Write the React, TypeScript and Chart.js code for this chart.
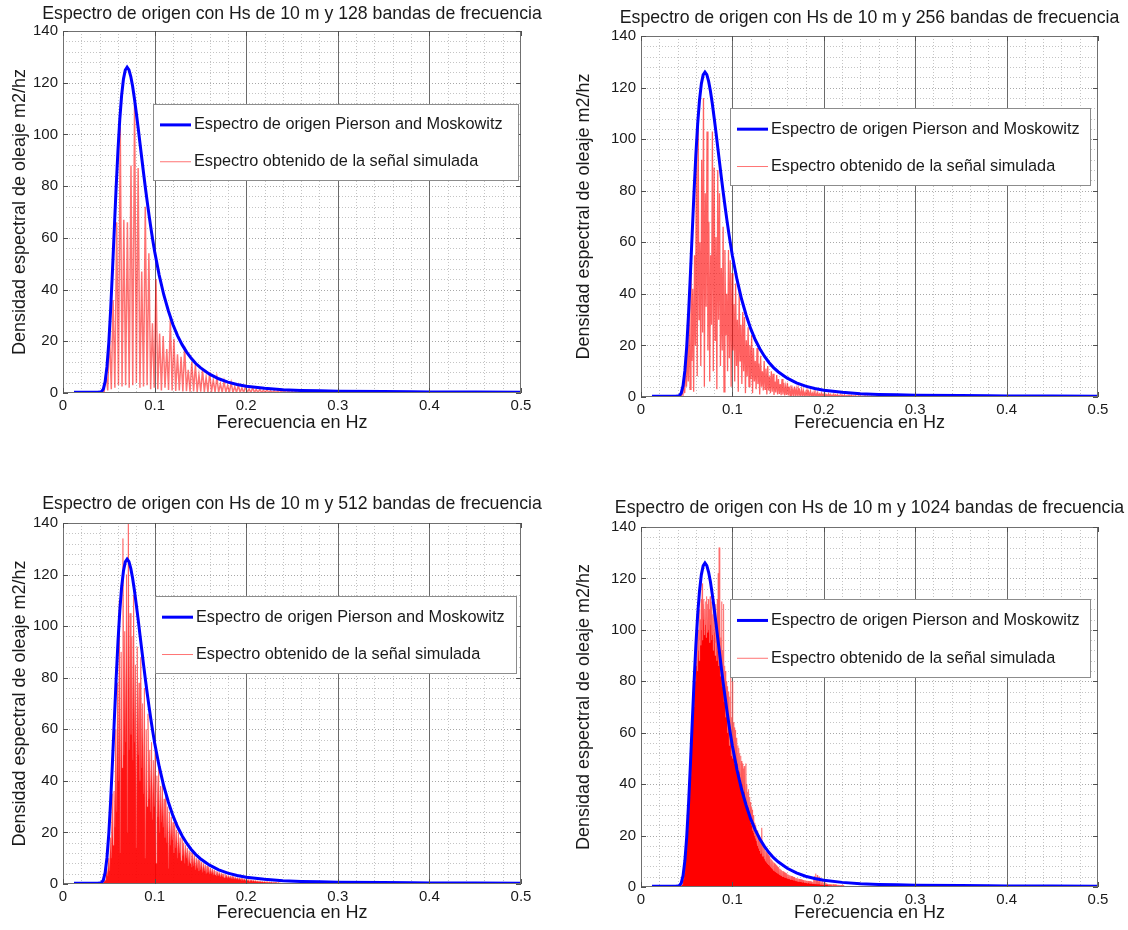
import React, { useEffect, useRef } from "react";
import { Chart, registerables } from "chart.js";

Chart.register(...registerables);

const FONT = "'Liberation Sans', Arial, Helvetica, sans-serif";
const TEXT = "#1a1a1a";

// ---------- Texts ----------
const TITLES = [
  "Espectro de origen con Hs de 10 m y 128 bandas de frecuencia",
  "Espectro de origen con Hs de 10 m y 256 bandas de frecuencia",
  "Espectro de origen con Hs de 10 m y 512 bandas de frecuencia",
  "Espectro de origen con Hs de 10 m y 1024 bandas de frecuencia",
];
const X_LABEL = "Ferecuencia en Hz";
const Y_LABEL = "Densidad espectral de oleaje m2/hz";
const LEGEND_PM = "Espectro de origen Pierson and Moskowitz";
const LEGEND_SIM = "Espectro obtenido de la señal simulada";

// ---------- Axes ----------
const X_MAJOR = [0, 0.1, 0.2, 0.3, 0.4, 0.5];
const Y_MAJOR = [0, 20, 40, 60, 80, 100, 120, 140];
const X_MINOR = [0.02, 0.04, 0.06, 0.08, 0.12, 0.14, 0.16, 0.18, 0.22, 0.24, 0.26, 0.28, 0.32, 0.34, 0.36, 0.38, 0.42, 0.44, 0.46, 0.48];
const Y_MINOR = [4, 8, 12, 16, 24, 28, 32, 36, 44, 48, 52, 56, 64, 68, 72, 76, 84, 88, 92, 96, 104, 108, 112, 116, 124, 128, 132, 136];

// ---------- Pierson-Moskowitz source spectrum (blue) ----------
const PM_FREQ = [0.012, 0.02, 0.03, 0.038, 0.04, 0.042, 0.044, 0.046, 0.048, 0.05, 0.052, 0.054, 0.056, 0.058, 0.06, 0.062, 0.064, 0.066, 0.068, 0.07, 0.072, 0.074, 0.076, 0.078, 0.08, 0.082, 0.084, 0.086, 0.088, 0.09, 0.092, 0.094, 0.096, 0.098, 0.1, 0.105, 0.11, 0.115, 0.12, 0.125, 0.13, 0.135, 0.14, 0.145, 0.15, 0.16, 0.17, 0.18, 0.19, 0.2, 0.22, 0.24, 0.26, 0.28, 0.3, 0.35, 0.38, 0.4, 0.45, 0.5];
const PM_VALUES = [0.3, 0.3, 0.3, 0.3, 0.35, 0.5, 1.5, 4.4, 10.2, 19.4, 32.1, 47.2, 63.4, 79.4, 93.8, 105.9, 115.1, 121.4, 124.9, 126, 125, 122.4, 118.6, 113.8, 108.4, 102.7, 96.7, 90.8, 84.9, 79.2, 73.8, 68.6, 63.7, 59.1, 54.8, 45.6, 38, 31.8, 26.5, 22.2, 18.7, 15.8, 13.4, 11.4, 9.8, 7.3, 5.5, 4.2, 3.3, 2.6, 1.8, 1.3, 1.0, 0.85, 0.7, 0.55, 0.5, 0.4, 0.35, 0.3];

// ---------- Simulated spectra (red) ----------
const BANDS = [128, 256, 512, 1024];

// 128 bands: band peaks from band index 10, and minima between bands
const R128_START = 10;
const R128_PEAKS = [0.3, 1, 8, 23, 36, 66, 103, 67, 66, 88, 112, 87, 47, 72, 54, 27, 44, 23, 22, 17, 29, 21, 15, 14, 18, 9, 12, 11, 7, 9, 6, 8, 5, 6, 3.5, 4.5, 3, 4, 2.5, 3, 2, 2.5, 1.6, 2, 1.4, 1.5, 1.1, 1.3, 0.9, 1, 0.8, 0.9, 0.7, 0.8, 0.6, 0.7, 0.5, 0.6, 0.5, 0.5, 0.4, 0.5, 0.4, 0.4, 0.35, 0.4, 0.3, 0.35];
const R128_TROUGHS = [0.2, 0.3, 1, 1.5, 2, 3, 2.5, 3, 2, 3, 4, 2, 2.5, 3, 1.5, 2, 1.5, 1, 2, 1.2, 1, 0.8, 1, 0.6, 0.7, 0.5, 0.6, 0.4, 0.5, 0.4, 0.3, 0.4, 0.3, 0.3, 0.2, 0.3, 0.2, 0.2, 0.2, 0.2, 0.15, 0.2, 0.15, 0.15, 0.15, 0.15, 0.1, 0.15, 0.1, 0.1, 0.1, 0.1, 0.1, 0.1, 0.1, 0.1, 0.1, 0.1, 0.1, 0.1, 0.1, 0.1, 0.1, 0.1, 0.1, 0.1, 0.1, 0.1];

// 256 bands
const R256_START = 21;
const R256_PEAKS = [0.3, 0.5, 2, 6, 14, 20, 35, 50, 42, 55, 92, 110, 60, 92, 116, 79, 103, 68, 55, 103, 89, 62, 88, 79, 50, 66, 57, 40, 57, 53, 48, 36, 44, 30, 41, 28, 33, 31, 22, 27, 20, 24, 19, 14, 19, 13, 16, 10, 14, 11, 12, 8, 10, 9, 6, 8.5, 7, 5, 7, 5.5, 4, 5.5, 4, 4.5, 3, 4, 3, 3.4, 2.2, 3, 2.4, 1.8, 2.6, 1.9, 2.2, 1.4, 2, 1.5, 1.7, 1.1, 1.5, 1.2, 1.3, 0.9, 1.2, 1, 0.8, 1.1, 0.8, 0.9, 0.6, 0.9, 0.7, 0.8, 0.5, 0.7, 0.6, 0.65, 0.45, 0.55, 0.35, 0.5, 0.4, 0.3, 0.45, 0.35, 0.4, 0.3, 0.35, 0.3, 0.25, 0.35, 0.3, 0.25, 0.3, 0.3, 0.2, 0.3, 0.25, 0.2, 0.25, 0.2, 0.25, 0.2, 0.2, 0.15, 0.2, 0.2, 0.15, 0.2, 0.15, 0.2, 0.15, 0.15];
const R256_TROUGHS = [0.2, 0.3, 0.8, 1.5, 4, 6, 3, 14, 2, 20, 8, 30, 12, 25, 4, 35, 18, 6, 28, 10, 22, 3, 30, 12, 18, 2, 24, 10, 15, 4, 18, 6, 12, 2, 14, 5, 10, 1.5, 8, 4, 7, 1.5, 6, 3, 5, 1, 4, 2.5, 3, 1, 2.5, 1.5, 2, 0.8, 1.8, 1, 1.2, 0.7, 1, 0.6, 0.8, 0.6, 0.5, 0.7, 0.4, 0.5, 0.4, 0.45, 0.3, 0.4, 0.3, 0.3, 0.25, 0.3, 0.25, 0.2, 0.25, 0.2, 0.2, 0.2, 0.2, 0.15, 0.2, 0.15, 0.15, 0.2, 0.15, 0.1, 0.15, 0.1, 0.15, 0.1, 0.1, 0.15, 0.1, 0.1, 0.1, 0.1, 0.1, 0.1, 0.1, 0.1, 0.1, 0.1, 0.1, 0.1, 0.1, 0.1, 0.1, 0.1, 0.1, 0.1, 0.1, 0.1, 0.1, 0.1, 0.1, 0.1, 0.1, 0.1, 0.1, 0.1, 0.1, 0.1, 0.1, 0.1, 0.1, 0.1, 0.1, 0.1, 0.1, 0.1, 0.1, 0.1];

// 512 bands (one value per band from band index 44)
const R512_START = 44;
const R512_VALUES = [0.3, 0.5, 1, 1.5, 3, 6, 3, 10, 5, 18, 10, 35, 15, 36, 22, 60, 28, 78, 40, 110, 12, 90, 45, 134, 50, 98, 55, 120, 20, 150, 52, 105, 58, 96, 48, 112, 55, 85, 14, 92, 50, 78, 40, 88, 45, 70, 35, 76, 10, 60, 30, 66, 33, 52, 28, 55, 25, 48, 30, 52,
  8, 42, 26, 45, 20, 38, 24, 40, 22, 33, 18, 36, 16, 30, 6, 28, 15, 26, 17, 24,
  12, 23, 14, 21, 10, 20, 12, 18, 9, 19, 11, 16, 8, 15, 10, 14, 7, 13, 8, 12.5,
  6.5, 12, 7, 11, 5.5, 10, 6, 9.5, 5, 9, 5.5, 8.5, 4.5, 8, 5, 7.5, 4, 7, 4.5, 6.5,
  3.8, 6.2, 4, 5.8, 3.4, 5.5, 3.5, 5, 3, 4.8, 3.1, 4.5, 2.7, 4.2, 2.8, 4, 2.4, 3.8, 2.5, 3.5,
  2.2, 3.3, 2.2, 3.1, 2, 3, 2, 2.8, 1.8, 2.6, 1.8, 2.5, 1.6, 2.4, 1.6, 2.2, 1.4, 2.1, 1.4, 2,
  1.3, 1.9, 1.2, 1.8, 1.1, 1.7, 1.1, 1.6, 1, 1.5, 1, 1.4, 0.9, 1.3, 0.9, 1.2, 0.8, 1.1, 0.8, 1,
  0.7, 1, 0.7, 0.9, 0.6, 0.9, 0.6, 0.8, 0.6, 0.8, 0.5, 0.7, 0.5, 0.7, 0.5, 0.6, 0.4, 0.6, 0.4, 0.5];

// 1024 bands (one value per band from band index 88)
const R1024_START = 88;
const R1024_VALUES = [0.3, 0.4, 0.5, 0.7, 1, 1.4, 2.2, 3, 4, 5.5, 7, 9, 11, 14, 16, 20, 22, 27, 29, 33, 35, 41, 43, 47, 50, 56, 58, 63, 65, 72, 70, 79, 76, 88, 80, 92, 86, 98, 84, 104, 92, 100, 88, 108, 96, 104, 94, 112, 100, 118, 96, 110, 104, 112, 98, 108, 102, 111, 97, 113, 105, 110, 99, 112, 100, 108, 95, 113, 102, 109, 96, 111, 98, 106, 92, 112, 99, 104, 90, 110, 95, 103, 88, 112, 92, 122, 86, 132, 90, 110, 82, 97, 86, 111, 78, 92, 80, 110, 72, 86, 74, 84, 66, 80, 68, 78, 60, 76, 62, 70, 55, 74, 57, 84, 51, 66, 53, 80,
  50, 64, 52, 62, 48, 61, 50, 58, 46, 57, 48, 55, 44, 54, 45, 52, 41, 51, 42, 49, 38, 48, 40, 46, 36, 47, 37, 44, 34, 48, 33, 40, 30, 37, 31, 38, 28, 35, 27, 33,
  25, 31, 24, 30, 22, 28, 21, 27, 20, 25, 19, 24, 18, 22, 17, 22, 16, 20, 15, 19, 14, 19, 13, 18, 13, 23, 12, 17, 12, 15.5, 11, 15, 10.5, 14, 10, 13.5, 9.5, 13, 9, 12.5,
  8.6, 12, 8.2, 11.5, 7.8, 11, 7.4, 10.5, 7, 10, 6.7, 9.6, 6.4, 9.2, 6.1, 8.8, 5.8, 8.4, 5.5, 8, 5.3, 7.7, 5, 7.4, 4.8, 7.1, 4.6, 6.8, 4.4, 6.5, 4.2, 6.2, 4, 6, 3.9, 5.7, 3.7, 5.5,
  3.6, 5.3, 3.4, 5.1, 3.3, 4.9, 3.2, 4.7, 3.1, 4.5, 3, 4.4, 2.9, 4.2, 2.8, 4.1, 2.7, 3.9, 2.6, 3.8, 2.5, 3.7, 2.4, 3.5, 2.3, 3.4, 2.2, 3.3, 2.2, 3.2, 2.1, 3.1, 2, 3, 2, 2.9, 1.9, 2.8, 1.8, 2.7,
  1.8, 2.7, 1.7, 2.6, 1.7, 2.5, 1.6, 2.4, 1.6, 2.4, 1.5, 2.3, 1.5, 2.2, 1.4, 2.2, 1.4, 2.1, 1.3, 2.1, 1.3, 2, 1.3, 3, 1.2, 4.2, 1.2, 5.2, 1.2, 2.8, 1.1, 4.6, 1.1, 2, 1.1, 4, 1, 1.7, 1, 3.2,
  1, 1.6, 0.9, 2.6, 0.9, 1.4, 0.9, 2, 0.8, 1.3, 0.8, 1.3, 0.8, 1.2, 0.8, 1.2, 0.7, 1.1, 0.7, 1.1, 0.7, 1.1, 0.7, 1, 0.6, 1, 0.6, 1, 0.6, 0.9, 0.6, 0.9, 0.6, 0.9, 0.5, 0.8, 0.5, 0.8,
  0.5, 0.8, 0.5, 0.7, 0.5, 0.7, 0.4, 0.7, 0.4, 0.6, 0.4, 0.6, 0.4, 0.6];

// ---------- Layout (pixels) ----------
type Panel = {
  left: number; top: number; width: number; height: number;
  area: { l: number; t: number; r: number; b: number };
  titleY: number;
  legend: { l: number; t: number; r: number; b: number };
  redWidth: number;
};
const PANELS: Panel[] = [
  { left: 0, top: 0, width: 564, height: 440, area: { l: 63, t: 31, r: 521, b: 393 }, titleY: 14, legend: { l: 0.197, t: 0.2017, r: 0.993, b: 0.412 }, redWidth: 1.5 },
  { left: 564, top: 0, width: 564, height: 440, area: { l: 77, t: 36, r: 534, b: 397 }, titleY: 18, legend: { l: 0.195, t: 0.1994, r: 0.982, b: 0.413 }, redWidth: 1.3 },
  { left: 0, top: 490, width: 564, height: 440, area: { l: 63, t: 33, r: 521, b: 394 }, titleY: 14, legend: { l: 0.2, t: 0.2022, r: 0.99, b: 0.4155 }, redWidth: 1 },
  { left: 564, top: 490, width: 564, height: 440, area: { l: 77, t: 37, r: 534, b: 397 }, titleY: 18, legend: { l: 0.195, t: 0.2, r: 0.982, b: 0.4167 }, redWidth: 1 },
];

type Pt = { x: number; y: number };

function spikeSeries(start: number, peaks: number[], troughs: number[], bands: number): Pt[] {
  const df = 0.5 / bands;
  const pts: Pt[] = [];
  peaks.forEach((p, i) => {
    const f = (start + i) * df;
    pts.push({ x: f, y: p });
    if (i < troughs.length) pts.push({ x: f + df / 2, y: troughs[i] });
  });
  return pts;
}

function bandSeries(start: number, values: number[], bands: number): Pt[] {
  const df = 0.5 / bands;
  return values.map((v, i) => ({ x: (start + i) * df, y: v }));
}

function redDataset(idx: number) {
  const w = PANELS[idx].redWidth;
  if (idx === 0) {
    return { data: spikeSeries(R128_START, R128_PEAKS, R128_TROUGHS, BANDS[0]), fill: false, borderColor: "rgba(255,0,0,0.55)", borderWidth: w };
  }
  if (idx === 1) {
    return { data: spikeSeries(R256_START, R256_PEAKS, R256_TROUGHS, BANDS[1]), fill: false, borderColor: "rgba(255,0,0,0.62)", borderWidth: w };
  }
  if (idx === 2) {
    return { data: bandSeries(R512_START, R512_VALUES, BANDS[2]), fill: "origin", backgroundColor: "rgba(255,0,0,0.92)", borderColor: "rgba(255,70,70,0.55)", borderWidth: w };
  }
  return { data: bandSeries(R1024_START, R1024_VALUES, BANDS[3]), fill: "origin", backgroundColor: "rgb(255,0,0)", borderColor: "rgba(255,90,90,0.6)", borderWidth: w };
}

function makeFramePlugin(idx: number) {
  const cfg = PANELS[idx];
  const line = (ctx: CanvasRenderingContext2D, x1: number, y1: number, x2: number, y2: number) => {
    ctx.beginPath();
    ctx.moveTo(x1, y1);
    ctx.lineTo(x2, y2);
    ctx.stroke();
  };
  return {
    id: "matlabFrame" + idx,
    beforeDatasetsDraw(chart: any) {
      const { ctx, chartArea: ca, scales } = chart;
      const xs = scales.x;
      const ys = scales.y;
      ctx.save();
      ctx.beginPath();
      ctx.rect(ca.left, ca.top, ca.right - ca.left, ca.bottom - ca.top);
      ctx.clip();
      ctx.lineWidth = 1;
      ctx.setLineDash([1, 2]);
      ctx.strokeStyle = "#c4c4c4";
      for (const v of X_MINOR) {
        const px = Math.round(xs.getPixelForValue(v)) + 0.5;
        line(ctx, px, ca.top, px, ca.bottom);
      }
      for (const v of Y_MINOR) {
        const py = Math.round(ys.getPixelForValue(v)) + 0.5;
        line(ctx, ca.left, py, ca.right, py);
      }
      ctx.strokeStyle = "#a8a8a8";
      for (const v of Y_MAJOR) {
        if (v === Y_MAJOR[0] || v === Y_MAJOR[Y_MAJOR.length - 1]) continue;
        const py = Math.round(ys.getPixelForValue(v)) + 0.5;
        line(ctx, ca.left, py, ca.right, py);
      }
      ctx.setLineDash([]);
      ctx.strokeStyle = "#6a6a6a";
      for (const v of X_MAJOR) {
        if (v === X_MAJOR[0] || v === X_MAJOR[X_MAJOR.length - 1]) continue;
        const px = Math.round(xs.getPixelForValue(v)) + 0.5;
        line(ctx, px, ca.top, px, ca.bottom);
      }
      ctx.restore();
    },
    afterDatasetsDraw(chart: any) {
      const { ctx, chartArea: ca, scales } = chart;
      const xs = scales.x;
      const ys = scales.y;
      ctx.save();
      ctx.lineWidth = 1;
      ctx.strokeStyle = "#707070";
      ctx.strokeRect(Math.round(ca.left) + 0.5, Math.round(ca.top) + 0.5, Math.round(ca.right - ca.left) - 1, Math.round(ca.bottom - ca.top) - 1);
      ctx.strokeStyle = "#505050";
      for (const v of X_MAJOR) {
        const px = Math.round(xs.getPixelForValue(v)) + 0.5;
        line(ctx, px, ca.bottom, px, ca.bottom - 5);
        line(ctx, px, ca.top, px, ca.top + 5);
      }
      for (const v of Y_MAJOR) {
        const py = Math.round(ys.getPixelForValue(v)) + 0.5;
        line(ctx, ca.left, py, ca.left + 5, py);
        line(ctx, ca.right, py, ca.right - 5, py);
      }
      // legend
      const w = ca.right - ca.left;
      const h = ca.bottom - ca.top;
      const L = Math.round(ca.left + cfg.legend.l * w);
      const R = Math.round(ca.left + cfg.legend.r * w);
      const T = Math.round(ca.top + cfg.legend.t * h);
      const B = Math.round(ca.top + cfg.legend.b * h);
      ctx.fillStyle = "#ffffff";
      ctx.fillRect(L, T, R - L, B - T);
      ctx.strokeStyle = "#8c8c8c";
      ctx.lineWidth = 1;
      ctx.strokeRect(L + 0.5, T + 0.5, R - L, B - T);
      const y1 = T + 0.275 * (B - T);
      const y2 = T + 0.76 * (B - T);
      ctx.strokeStyle = "#0000ff";
      ctx.lineWidth = 3;
      line(ctx, L + 7, y1, L + 38, y1);
      ctx.strokeStyle = "rgba(255,0,0,0.55)";
      ctx.lineWidth = 1;
      line(ctx, L + 7, y2, L + 38, y2);
      ctx.fillStyle = TEXT;
      ctx.font = `16.3px ${FONT}`;
      ctx.textAlign = "left";
      ctx.textBaseline = "middle";
      ctx.fillText(LEGEND_PM, L + 41, y1);
      ctx.fillText(LEGEND_SIM, L + 41, y2);
      // title
      ctx.font = `17.7px ${FONT}`;
      ctx.textAlign = "center";
      ctx.fillText(TITLES[idx], (ca.left + ca.right) / 2, cfg.titleY);
      ctx.restore();
    },
  };
}

function SpectrumPanel({ idx }: { idx: number }) {
  const ref = useRef<HTMLCanvasElement | null>(null);
  const cfg = PANELS[idx];
  useEffect(() => {
    if (!ref.current) return;
    const red = redDataset(idx);
    const chart = new Chart(ref.current, {
      type: "line",
      data: {
        datasets: [
          {
            label: LEGEND_PM,
            data: PM_FREQ.map((f, i) => ({ x: f, y: PM_VALUES[i] })),
            borderColor: "#0000ff",
            borderWidth: 3,
            pointRadius: 0,
            tension: 0,
            fill: false,
          },
          {
            label: LEGEND_SIM,
            pointRadius: 0,
            tension: 0,
            ...red,
          } as any,
        ],
      },
      options: {
        animation: false,
        responsive: false,
        maintainAspectRatio: false,
        events: [],
        layout: { padding: { top: cfg.area.t, right: cfg.width - cfg.area.r, left: 0, bottom: 0 } },
        plugins: { legend: { display: false }, tooltip: { enabled: false }, title: { display: false } },
        scales: {
          x: {
            type: "linear",
            min: 0,
            max: 0.5,
            grid: { display: false, drawTicks: false },
            border: { display: false },
            ticks: {
              stepSize: 0.1,
              padding: 4,
              color: TEXT,
              font: { family: FONT, size: 15 },
              callback: (v: any) => String(Math.round(Number(v) * 10) / 10),
            },
            title: { display: true, text: X_LABEL, color: TEXT, font: { family: FONT, size: 18 }, padding: { top: 0, bottom: 6 } },
            afterFit: (s: any) => {
              s.height = cfg.height - cfg.area.b;
            },
          },
          y: {
            type: "linear",
            min: 0,
            max: 140,
            grid: { display: false, drawTicks: false },
            border: { display: false },
            ticks: { stepSize: 20, padding: 5, color: TEXT, font: { family: FONT, size: 15 } },
            title: { display: true, text: Y_LABEL, color: TEXT, font: { family: FONT, size: 18 }, padding: { top: 9, bottom: 0 } },
            afterFit: (s: any) => {
              s.width = cfg.area.l;
            },
          },
        },
      },
      plugins: [makeFramePlugin(idx)],
    } as any);
    return () => chart.destroy();
  }, [idx]);
  return (
    <canvas
      ref={ref}
      width={cfg.width}
      height={cfg.height}
      style={{ position: "absolute", left: cfg.left, top: cfg.top, width: cfg.width, height: cfg.height }}
    />
  );
}

export default function App() {
  return (
    <div style={{ position: "absolute", left: 0, top: 0, width: 1128, height: 930, background: "#ffffff", overflow: "hidden" }}>
      {PANELS.map((_, i) => (
        <SpectrumPanel key={i} idx={i} />
      ))}
    </div>
  );
}
